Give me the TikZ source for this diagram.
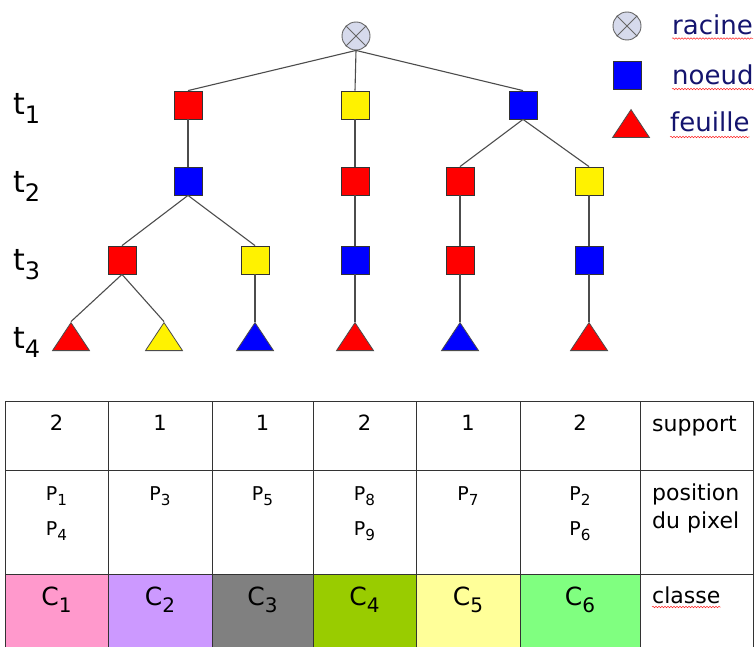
\documentclass[tikz,border=0pt]{standalone}
\usepackage{fontspec}
\usepackage{graphicx}
\setmainfont{DejaVu Sans}
\usetikzlibrary{positioning, shapes.geometric, decorations.pathmorphing}

\definecolor{cone}{RGB}{255,153,204}
\definecolor{ctwo}{RGB}{204,153,255}
\definecolor{cthree}{RGB}{128,128,128}
\definecolor{cfour}{RGB}{153,204,0}
\definecolor{cfive}{RGB}{255,255,153}
\definecolor{csix}{RGB}{128,255,128}
\definecolor{legtext}{RGB}{20,20,110}
\definecolor{rootfill}{RGB}{214,218,236}

\newcommand{\tsub}[2]{#1\raisebox{-0.3em}{\scalebox{0.8}{#2}}}

\begin{document}
\begin{tikzpicture}[
  x=1pt, y=-1pt,
  box/.style={draw=black!80, line width=0.8pt, minimum size=28pt, inner sep=0pt},
  leaf/.style={draw=black!70, line width=0.8pt, isosceles triangle, isosceles triangle stretches,
               shape border rotate=90, minimum width=37pt, minimum height=28pt, inner sep=0pt,
               anchor=lower side},
  rootc/.style={circle, draw=black!60, fill=rootfill, line width=0.9pt, minimum size=28pt, inner sep=0pt},
  link/.style={draw=black!70, line width=1.1pt},
  lev/.style={font=\fontsize{30}{34}\selectfont, anchor=base west, inner sep=0pt},
  leg/.style={font=\fontsize{26}{30}\selectfont, text=legtext, anchor=base west, inner sep=0pt},
  wavy/.style={draw=red!85, line width=0.5pt, decorate, decoration={snake, amplitude=0.8pt, segment length=3pt}},
  cell/.style={draw=black!80, line width=1pt},
  num/.style={font=\fontsize{21}{24}\selectfont, anchor=base, inner sep=0pt},
  pix/.style={font=\fontsize{19}{22}\selectfont, anchor=base, inner sep=0pt},
  cls/.style={font=\fontsize{25}{28}\selectfont, anchor=base, inner sep=0pt},
  head/.style={font=\fontsize{22}{26}\selectfont, anchor=base west, inner sep=0pt}
]
\useasboundingbox (0,0) rectangle (754,647);

\node[rootc] (root) at (356,36) {};
\draw[black!60, line width=0.9pt] (root.north east) -- (root.south west) (root.north west) -- (root.south east);

\node[box, fill=red]    (a1) at (188,105) {};
\node[box, fill=yellow] (b1) at (355,105) {};
\node[box, fill=blue]   (c1) at (523,105) {};
\node[box, fill=blue]   (a2) at (188,181) {};
\node[box, fill=red]    (b2) at (355,181) {};
\node[box, fill=red]    (c2) at (460,181) {};
\node[box, fill=yellow] (d2) at (589,181) {};
\node[box, fill=red]    (a3) at (122,260) {};
\node[box, fill=yellow] (e3) at (255,260) {};
\node[box, fill=blue]   (b3) at (355,260) {};
\node[box, fill=red]    (c3) at (460,260) {};
\node[box, fill=blue]   (d3) at (589,260) {};
\node[leaf, fill=red]    (f1) at (71,351) {};
\node[leaf, fill=yellow] (f2) at (164,351) {};
\node[leaf, fill=blue]   (f3) at (255,351) {};
\node[leaf, fill=red]    (f4) at (355,351) {};
\node[leaf, fill=blue]   (f5) at (460,351) {};
\node[leaf, fill=red]    (f6) at (589,351) {};
\foreach \pa/\ch in {root/a1, root/b1, root/c1, a1/a2, b1/b2, c1/c2, c1/d2,
                     a2/a3, a2/e3, b2/b3, c2/c3, d2/d3}{
  \draw[link] (\pa.south) -- (\ch.north);}
\foreach \pa/\ch in {a3/f1, a3/f2, e3/f3, b3/f4, c3/f5, d3/f6}{
  \draw[link] (\pa.south) -- (\ch.apex);}

\foreach \k/\y in {1/115, 2/193, 3/270, 4/348}{
  \node[lev] (t\k) at (13,\y) {\tsub{t}{\k}};}

\node[rootc] (legroot) at (627,26) {};
\draw[black!60, line width=0.9pt] (legroot.north east) -- (legroot.south west) (legroot.north west) -- (legroot.south east);
\node[box, fill=blue] (legnode) at (627,75) {};
\node[leaf, fill=red] (legleaf) at (631,138) {};
\node[leg] (lracine) at (672,35) {racine};
\node[leg] (lnoeud) at (672,85) {noeud};
\node[leg] (lfeuille) at (670,132) {feuille};
\foreach \w/\d in {lracine/3.5pt, lnoeud/4pt, lfeuille/5pt}{
  \draw[wavy] ([yshift=-\d]\w.base west) -- ([yshift=-\d]\w.base east);}

\foreach \xa/\xb/\clr in {5/108/cone, 108/212/ctwo, 212/313/cthree, 313/416/cfour, 416/520/cfive, 520/640/csix}{
  \fill[\clr] (\xa,574) rectangle (\xb,650);}
\draw[cell] (5,401) rectangle (753,650);
\foreach \y in {470, 574}{
  \draw[cell] (5,\y) -- (753,\y);}
\foreach \x in {108, 212, 313, 416, 520, 640}{
  \draw[cell] (\x,401) -- (\x,650);}

\foreach \k/\x/\s in {1/56.5/2, 2/160/1, 3/262.5/1, 4/364.5/2, 5/468/1, 6/580/2}{
  \node[num] (sup\k) at (\x,430) {\s};
  \node[cls] (cls\k) at (\x,605) {\tsub{C}{\k}};}
\foreach \x/\y/\i in {56.5/500/1, 56.5/535/4, 160/500/3, 262.5/500/5, 364.5/500/8,
                      364.5/535/9, 468/500/7, 580/500/2, 580/535/6}{
  \node[pix] (pix\i) at (\x,\y) {\tsub{P}{\i}};}

\node[head] (hsup) at (652,431) {support};
\node[head] (hpos) at (652,500) {position};
\node[head] (hdu) at (652,528) {du pixel};
\node[head] (hcls) at (652,603) {classe};
\draw[wavy] ([yshift=-4pt]hcls.base west) -- ([yshift=-4pt]hcls.base east);
\end{tikzpicture}
\end{document}
